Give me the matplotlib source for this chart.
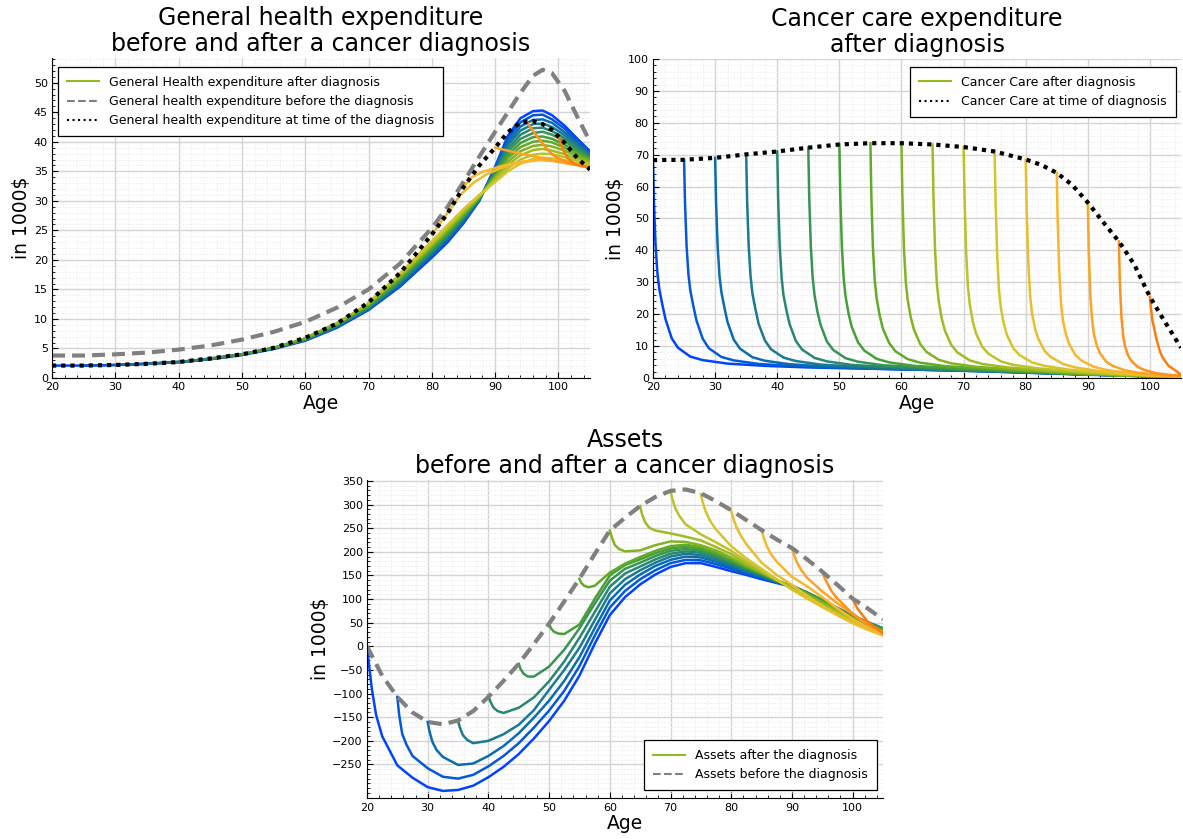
import matplotlib
matplotlib.use("Agg")
import matplotlib.pyplot as plt
from matplotlib.colors import LinearSegmentedColormap
from matplotlib.lines import Line2D
from matplotlib.ticker import MultipleLocator, FixedLocator

# ---------------- data ----------------
diag_ages = [20, 25, 30, 35, 40, 45, 50, 55, 60, 65, 70, 75, 80, 85, 90, 95, 100]

# general health expenditure (in 1000$)
gh_ages = [20, 25, 30, 35, 40, 45, 50, 55, 60, 65, 70, 75, 80, 82.5, 85, 87.5,
           90, 92, 94, 96, 97.5, 99, 101, 103, 105]
gh_before = [3.8, 3.8, 4.0, 4.3, 4.8, 5.5, 6.5, 7.8, 9.5, 11.9, 15.0, 19.4, 25.4,
             29.0, 33.2, 37.5, 41.7, 45.0, 48.3, 51.2, 52.2, 51.6, 48.6, 44.2, 40.0]
gh_at_diag = [2.1, 2.1, 2.2, 2.4, 2.7, 3.3, 4.0, 5.1, 6.8, 9.2, 12.8, 17.8, 24.3,
              27.9, 32.3, 36.0, 39.0, 41.6, 43.3, 43.5, 43.0, 42.0, 39.8, 37.2, 35.3]
# curves for diagnosis at 20..75, read on gh_ages from the diagnosis age on
gh_after = [
    [2.1, 2.1, 2.2, 2.4, 2.7, 3.2, 3.9, 4.9, 6.3, 8.5, 11.5, 15.5,
     20.4, 23.0, 26.2, 30.0, 35.8, 41.0, 44.0, 45.2, 45.3, 44.5, 42.7, 40.5, 38.4],
    [2.1, 2.2, 2.4, 2.7, 3.2, 3.9, 5.0, 6.4, 8.6, 11.6, 15.7,
     20.7, 23.3, 26.4, 30.1, 35.6, 40.5, 43.3, 44.5, 44.6, 43.8, 42.2, 40.1, 38.2],
    [2.2, 2.4, 2.7, 3.2, 4.0, 5.0, 6.4, 8.7, 11.7, 15.9,
     20.9, 23.5, 26.6, 30.2, 35.3, 39.9, 42.6, 43.7, 43.8, 43.2, 41.6, 39.8, 38.0],
    [2.4, 2.7, 3.2, 4.0, 5.0, 6.5, 8.8, 11.8, 16.1,
     21.2, 23.8, 26.9, 30.3, 35.1, 39.4, 41.9, 43.0, 43.1, 42.5, 41.1, 39.4, 37.7],
    [2.7, 3.3, 4.0, 5.1, 6.5, 8.9, 11.9, 16.3,
     21.4, 24.1, 27.1, 30.4, 34.9, 38.8, 41.2, 42.3, 42.4, 41.8, 40.6, 39.0, 37.5],
    [3.3, 4.0, 5.1, 6.6, 9.0, 12.1, 16.5,
     21.7, 24.3, 27.3, 30.5, 34.6, 38.3, 40.5, 41.5, 41.7, 41.2, 40.1, 38.6, 37.3],
    [4.0, 5.1, 6.6, 9.1, 12.2, 16.8,
     21.9, 24.6, 27.5, 30.5, 34.4, 37.7, 39.8, 40.8, 40.9, 40.5, 39.5, 38.3, 37.1],
    [5.1, 6.7, 9.2, 12.4, 17.0,
     22.2, 24.8, 27.7, 30.6, 34.1, 37.2, 39.1, 40.0, 40.2, 39.9, 39.0, 37.9, 36.9],
    [6.8, 9.3, 12.5, 17.2,
     22.4, 25.1, 27.9, 30.7, 33.9, 36.6, 38.4, 39.3, 39.5, 39.2, 38.5, 37.5, 36.7],
    [9.2, 12.6, 17.4,
     22.7, 25.4, 28.2, 30.8, 33.7, 36.1, 37.7, 38.6, 38.8, 38.5, 37.9, 37.1, 36.4],
    [12.8, 17.6,
     22.9, 25.6, 28.4, 30.9, 33.4, 35.5, 37.0, 37.8, 38.0, 37.9, 37.4, 36.8, 36.2],
    [17.8,
     23.2, 25.9, 28.6, 31.0, 33.2, 35.0, 36.3, 37.1, 37.3, 37.2, 36.9, 36.4, 36.0],
]
# curves for diagnosis at 80..100
gh_late_ages = [
    [80, 81.5, 83, 84.5, 86.5, 88.5, 91, 94, 97, 100, 102.5, 105],
    [85, 86.3, 88, 91, 94, 97, 100, 102.5, 105],
    [90, 92, 94, 96, 98, 100, 102.5, 105],
    [95, 96, 97, 98, 99, 100, 101.5, 103, 105],
    [100, 100.8, 101.5, 102.5, 103.5, 105],
]
gh_late = [
    [24.3, 26.5, 28.7, 31.0, 33.0, 34.4, 35.6, 36.5, 36.9, 36.7, 36.2, 35.8],
    [32.3, 34.0, 34.9, 35.9, 36.6, 37.0, 36.7, 36.2, 35.8],
    [39.0, 38.5, 38.0, 37.6, 37.1, 36.6, 36.1, 35.8],
    [43.4, 41.8, 40.4, 39.0, 37.9, 37.2, 36.5, 36.1, 35.8],
    [40.9, 38.5, 37.2, 36.3, 35.9, 35.6],
]

# cancer care expenditure (in 1000$)
care_ages = [20, 25, 30, 35, 40, 45, 50, 55, 60, 65, 70, 75, 80, 82.5, 85, 87.5,
             90, 92.5, 95, 97.5, 100, 102.5, 105]
care_at_diag = [68.3, 68.4, 69.0, 70.1, 71.0, 72.2, 73.2, 73.6, 73.6, 73.2, 72.4,
                71.0, 68.5, 66.8, 64.3, 60.5, 55.0, 48.8, 42.8, 35.5, 25.4, 17.3, 9.5]
# years since diagnosis at which each curve is read (last point is age 105)
care_t = [0, 0.15, 0.4, 0.7, 1, 1.5, 2, 3, 4, 6, 8, 12, 18, 25, 35, 50, 70, 85]
care_after = [
    [68.3, 55.0, 42.0, 33.0, 28.0, 23.0, 18.5, 12.5, 9.5, 6.7, 5.6, 4.5, 3.8, 3.3, 2.9, 2.3, 1.0, 0.3],
    [68.4, 55.0, 41.5, 32.5, 27.5, 22.5, 18.0, 12.3, 9.3, 6.6, 5.5, 4.4, 3.7, 3.2, 2.7, 2.1, 0.8, 0.3],
    [69.0, 55.0, 41.5, 32.0, 27.0, 22.0, 17.5, 12.0, 9.2, 6.5, 5.4, 4.3, 3.6, 3.0, 2.5, 1.7, 0.5, 0.3],
    [70.1, 55.5, 41.5, 32.0, 26.5, 21.5, 17.0, 11.8, 9.0, 6.4, 5.3, 4.2, 3.5, 2.9, 2.4, 1.4, 0.3],
    [71.0, 56.0, 41.5, 31.5, 26.0, 21.0, 16.8, 11.6, 8.9, 6.3, 5.2, 4.1, 3.4, 2.8, 2.2, 1.1, 0.3],
    [72.2, 56.5, 41.5, 31.5, 26.0, 20.5, 16.5, 11.4, 8.8, 6.2, 5.1, 4.0, 3.3, 2.6, 1.9, 0.8, 0.3],
    [73.2, 57.0, 41.5, 31.0, 25.5, 20.0, 16.0, 11.2, 8.6, 6.0, 4.9, 3.8, 3.1, 2.4, 1.7, 0.6, 0.3],
    [73.6, 57.0, 41.0, 30.5, 25.0, 19.5, 15.5, 11.0, 8.4, 5.9, 4.8, 3.7, 3.0, 2.2, 1.1, 0.3],
    [73.6, 57.0, 40.5, 30.0, 24.5, 19.0, 15.2, 10.7, 8.2, 5.7, 4.6, 3.5, 2.7, 1.9, 0.8, 0.3],
    [73.2, 57.0, 40.5, 29.5, 24.0, 18.5, 14.8, 10.4, 8.0, 5.5, 4.4, 3.3, 2.4, 1.6, 0.6, 0.3],
    [72.4, 57.0, 40.0, 28.5, 23.0, 17.5, 14.0, 9.8, 7.6, 5.2, 4.1, 3.0, 2.1, 1.2, 0.4],
    [71.0, 55.5, 39.0, 27.5, 22.0, 16.8, 13.4, 9.3, 7.2, 4.9, 3.8, 2.6, 1.6, 0.8, 0.4],
    [68.5, 53.0, 37.0, 26.0, 20.5, 15.5, 12.4, 8.6, 6.6, 4.4, 3.3, 2.1, 1.0, 0.5],
    [64.3, 49.0, 33.5, 23.0, 18.0, 13.5, 10.6, 7.2, 5.4, 3.5, 2.5, 1.4, 0.6, 0.5],
    [55.0, 40.0, 26.0, 18.0, 13.5, 9.8, 7.6, 5.0, 3.8, 2.4, 1.7, 0.9, 0.6],
    [42.8, 30.5, 19.5, 13.0, 9.8, 7.0, 5.4, 3.5, 2.6, 1.5, 1.0, 0.7],
    [25.4, 22.0, 18.0, 15.5, 12.5, 9.0, 6.5, 3.8, 2.5, 1.0],
]

# assets (in 1000$)
asset_ages = [20, 22.5, 25, 27.5, 30, 32.5, 35, 37.5, 40, 42.5, 45, 47.5, 50, 52.5,
              55, 57.5, 60, 62.5, 65, 67.5, 70, 72.5, 75, 77.5, 80, 82.5, 85, 87.5,
              90, 92.5, 95, 97.5, 100, 102.5, 105]
assets_before = [0, -62, -107, -140, -160, -165, -157, -137, -107, -73, -37, 5, 48,
                 95, 143, 195, 245, 272, 297, 316, 329, 332, 324, 307, 288, 267, 246,
                 226, 208, 184, 158, 130, 101, 80, 57]
# first points: years after diagnosis, then the asset_ages grid from diagnosis + 2.5 on
asset_head = [0, 0.3, 0.8, 1.5]
assets_after = [
    [0, -35, -90, -145, -190, -252, -278, -298, -306, -304, -295, -277, -255, -228,
     -195, -158, -115, -62, 5, 66, 104, 131, 152, 168, 176, 176, 168, 159, 151, 142,
     134, 126, 110, 93, 76, 59, 45, 32],
    [-107, -145, -185, -208, -232, -258, -276, -280, -272, -254, -232, -205, -172, -136,
     -94, -42, 22, 82, 117, 142, 161, 176, 183, 182, 174, 164, 154, 145, 135, 127,
     112, 95, 78, 62, 48, 35],
    [-160, -180, -203, -220, -234, -251, -248, -232, -211, -184, -151, -115, -73, -23,
     38, 97, 130, 152, 170, 183, 190, 188, 179, 168, 157, 147, 136, 128, 113, 97,
     80, 64, 50, 37],
    [-157, -172, -188, -198, -205, -200, -186, -166, -135, -92, -50, -3, 55, 112,
     142, 161, 177, 190, 196, 193, 184, 172, 160, 149, 137, 128, 114, 98, 81, 65, 51, 38],
    [-104, -116, -129, -137, -141, -130, -108, -74, -32, 18, 72, 126, 154, 169,
     184, 196, 201, 198, 188, 176, 163, 151, 138, 128, 114, 98, 81, 65, 51, 38],
    [-37, -48, -58, -64, -64, -43, -7, 38, 90, 139, 164, 177, 191, 202,
     206, 202, 192, 179, 165, 153, 139, 128, 113, 97, 80, 64, 50, 37],
    [48, 38, 31, 27, 26, 46, 100, 150, 172, 184, 197, 207, 211, 206,
     196, 182, 167, 154, 139, 127, 112, 96, 79, 62, 48, 35],
    [143, 134, 128, 125, 128, 156, 175, 189, 202, 212, 215, 210, 199, 185,
     169, 155, 140, 126, 111, 94, 77, 60, 46, 33],
    [245, 232, 215, 206, 201, 203, 214, 222, 221, 214, 203, 188, 171, 156,
     140, 125, 109, 92, 75, 58, 44, 31],
    [297, 280, 263, 251, 245, 239, 232, 224, 210, 195, 175, 158, 140, 123,
     106, 89, 72, 55, 41, 28],
    [329, 312, 292, 275, 258, 237, 220, 202, 180, 161, 141, 121, 103, 86, 69, 53, 39, 26],
    [322, 305, 285, 266, 247, 212, 186, 164, 142, 120, 101, 83, 66, 50, 36, 24],
    [288, 272, 254, 236, 216, 177, 151, 130, 107, 85, 66, 49, 35, 23],
    [246, 232, 214, 196, 179, 147, 127, 104, 80, 58, 39, 24],
    [208, 196, 178, 162, 145, 116, 91, 68, 46, 28],
    [158, 147, 134, 117, 101, 69, 47, 30],
    [101, 92, 80, 68, 52, 27],
]

# ---------------- style ----------------
cmap = LinearSegmentedColormap.from_list(
    "diag", ['#0044ff', '#0b6fab', '#2c8a6c', '#4ba52c', '#93b81f',
             '#cdc62a', '#f8ba2e', '#fd9520', '#ff6600'])
n_col = 17  # diagnosis ages 20..105


def col(i):
    return cmap(i / n_col)


LW = 1.8
GRAY = '#808080'
DASH = (0, (3.1, 1.7))
DOT = (0, (1, 1.2))


def style(ax, ylim, yticks, yminor, title):
    ax.set_xlim(20, 105)
    ax.set_ylim(*ylim)
    ax.xaxis.set_major_locator(MultipleLocator(10))
    ax.xaxis.set_minor_locator(MultipleLocator(2))
    ax.yaxis.set_major_locator(FixedLocator(yticks))
    ax.yaxis.set_minor_locator(MultipleLocator(yminor))
    ax.grid(which='major', color='#d4d4d4', lw=1.0)
    ax.grid(which='minor', color='#ebebeb', lw=0.6, ls=(0, (2, 2)))
    ax.set_axisbelow(True)
    for s in ['top', 'right']:
        ax.spines[s].set_visible(False)
    ax.tick_params(which='both', direction='in', labelsize=8, pad=3)
    ax.tick_params(which='major', length=4)
    ax.tick_params(which='minor', length=2)
    ax.set_xlabel('Age', fontsize=13.5, labelpad=1)
    ax.set_ylabel('in 1000$', fontsize=13.5, labelpad=2)
    ax.set_title(title, fontsize=17, pad=5, linespacing=1.1)


def make_legend(ax, entries, **kw):
    handles = [Line2D([], [], color=c, lw=1.5, ls=ls) for c, ls, _ in entries]
    labels = [lab for _, _, lab in entries]
    leg = ax.legend(handles, labels, fontsize=9, fancybox=False, framealpha=1,
                    edgecolor='black', borderaxespad=0, handlelength=2.6,
                    borderpad=0.7, labelspacing=0.5, **kw)
    leg.get_frame().set_linewidth(0.9)


fig = plt.figure(figsize=(11.83, 8.39), dpi=100)
ax1 = fig.add_axes([0.0440, 0.5495, 0.4548, 0.3814])
ax2 = fig.add_axes([0.5520, 0.5495, 0.4463, 0.3802])
ax3 = fig.add_axes([0.3102, 0.0483, 0.4362, 0.3796])

# ---------------- panel 1 ----------------
for i, vals in enumerate(gh_after):
    ax1.plot(gh_ages[-len(vals):], vals, color=col(i), lw=LW)
for j, (a, v) in enumerate(zip(gh_late_ages, gh_late)):
    ax1.plot(a, v, color=col(len(gh_after) + j), lw=LW)
ax1.plot(gh_ages, gh_before, color=GRAY, lw=3, ls=DASH)
ax1.plot(gh_ages, gh_at_diag, color='black', lw=3, ls=DOT)
style(ax1, (0, 54.2), list(range(0, 51, 5)), 1,
      'General health expenditure\nbefore and after a cancer diagnosis')
make_legend(ax1, [(col(8.5), '-', 'General Health expenditure after diagnosis'),
                  (GRAY, '--', 'General health expenditure before the diagnosis'),
                  ('black', ':', 'General health expenditure at time of the diagnosis')],
            loc='upper left', bbox_to_anchor=(0.011, 0.972))

# ---------------- panel 2 ----------------
for i, (d, vals) in enumerate(zip(diag_ages, care_after)):
    ages = [d + t for t in care_t if d + t < 105] + [105]
    ax2.plot(ages, vals, color=col(i), lw=LW)
ax2.plot(care_ages, care_at_diag, color='black', lw=3, ls=DOT)
style(ax2, (0, 100), list(range(0, 101, 10)), 2,
      'Cancer care expenditure\nafter diagnosis')
make_legend(ax2, [(col(8.5), '-', 'Cancer Care after diagnosis'),
                  ('black', ':', 'Cancer Care at time of diagnosis')],
            loc='upper right', bbox_to_anchor=(0.99, 0.975))

# ---------------- panel 3 ----------------
for i, (d, vals) in enumerate(zip(diag_ages, assets_after)):
    ages = [d + h for h in asset_head] + [a for a in asset_ages if a >= d + 2.5]
    ax3.plot(ages, vals, color=col(i), lw=LW)
ax3.plot(asset_ages, assets_before, color=GRAY, lw=3, ls=DASH)
style(ax3, (-322, 352), list(range(-250, 351, 50)), 10,
      'Assets\nbefore and after a cancer diagnosis')
make_legend(ax3, [(col(8.5), '-', 'Assets after the diagnosis'),
                  (GRAY, '--', 'Assets before the diagnosis')],
            loc='lower right', bbox_to_anchor=(0.988, 0.027))

fig.savefig('out.png', dpi=100)
